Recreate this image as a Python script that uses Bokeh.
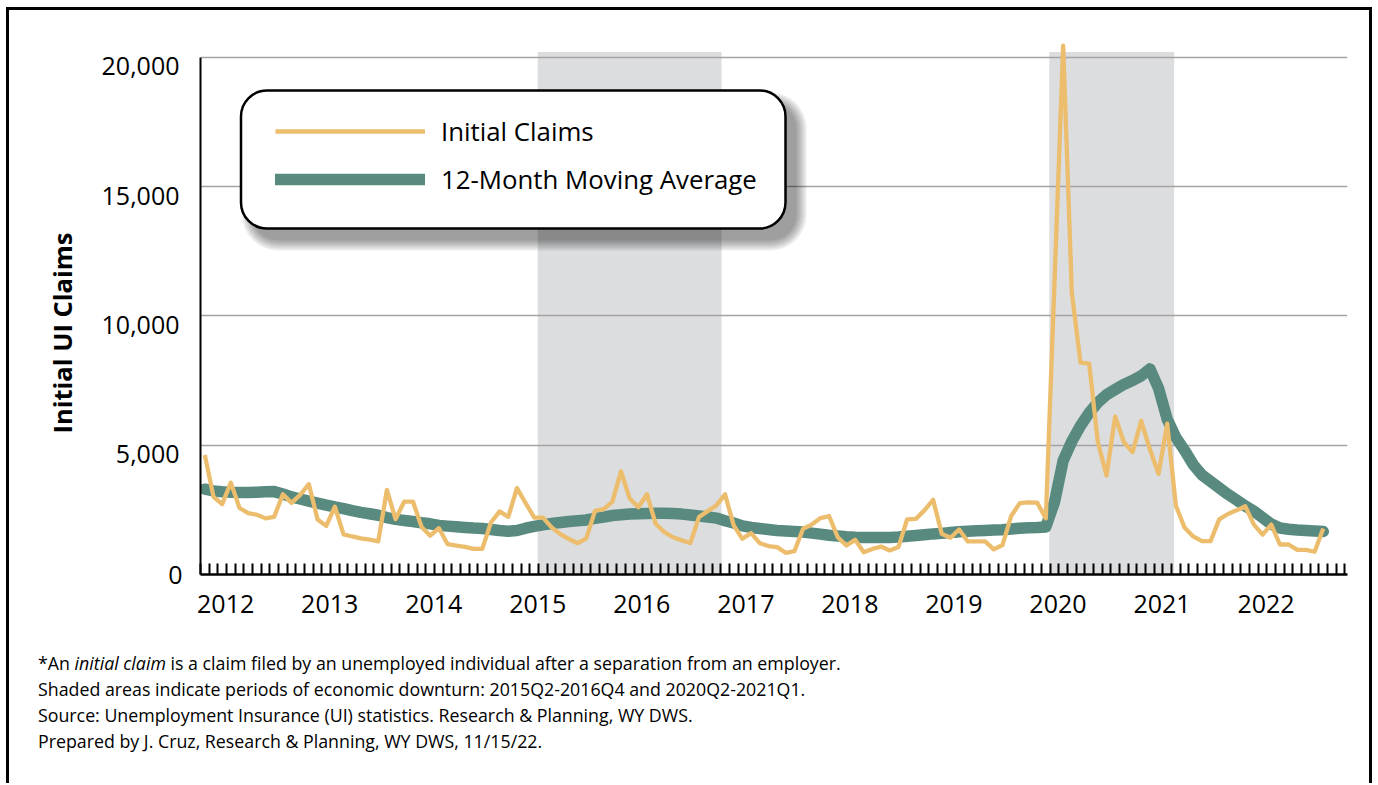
import html
import pandas as pd
from bokeh.plotting import figure
from bokeh.layouts import column
from bokeh.models import (Range1d, FixedTicker, BoxAnnotation, Legend, LegendItem,
                          LinearAxis, NumeralTickFormatter, Title, Div)
from bokeh.embed import file_html
from bokeh.resources import INLINE

# ---------------- data ----------------
start_month = "2012-01"

initial_claims = [
    4620, 3000, 2720, 3550, 2570, 2370, 2310, 2170, 2230, 3100, 2770, 3080,   # 2012
    3490, 2130, 1880, 2620, 1550, 1470, 1400, 1350, 1280, 3270, 2140, 2820,   # 2013
    2820, 1840, 1500, 1790, 1170, 1120, 1070, 990, 990, 2010, 2440, 2230,     # 2014
    3340, 2760, 2200, 2200, 1820, 1560, 1370, 1210, 1400, 2460, 2530, 2810,   # 2015
    3990, 2940, 2600, 3100, 1960, 1640, 1440, 1320, 1220, 2220, 2450, 2670,   # 2016
    3100, 1900, 1380, 1600, 1210, 1100, 1060, 840, 900, 1770, 1930, 2180,    # 2017
    2260, 1440, 1120, 1340, 860, 990, 1080, 930, 1060, 2130, 2150, 2480,     # 2018
    2890, 1570, 1420, 1740, 1280, 1280, 1280, 970, 1140, 2260, 2760, 2790,   # 2019
    2780, 2170, 11300, 20450, 10890, 8190, 8150, 5120, 3830, 6110, 5120, 4730,  # 2020
    5940, 4840, 3890, 5830, 2660, 1820, 1470, 1290, 1290, 2130, 2340, 2480,  # 2021
    2640, 1930, 1540, 1930, 1160, 1160, 950, 950, 880, 1780,                 # 2022
]

moving_average = [
    3300, 3230, 3200, 3180, 3175, 3175, 3180, 3195, 3205, 3110, 3000, 2920,
    2840, 2760, 2680, 2610, 2550, 2470, 2400, 2350, 2290, 2200, 2130, 2090,
    2050, 2000, 1960, 1900, 1870, 1845, 1820, 1795, 1780, 1740, 1700, 1670,
    1700, 1790, 1860, 1920, 1970, 2010, 2050, 2080, 2110, 2170, 2220, 2280,
    2310, 2340, 2350, 2360, 2365, 2365, 2360, 2335, 2300, 2260, 2220, 2180,
    2080, 1990, 1880, 1820, 1780, 1740, 1700, 1680, 1660, 1640, 1600, 1560,
    1520, 1490, 1460, 1440, 1430, 1430, 1430, 1435, 1450, 1480, 1510, 1540,
    1570, 1590, 1620, 1650, 1670, 1690, 1705, 1720, 1730, 1760, 1790, 1810,
    1820, 1840, 2800, 4400, 5150, 5750, 6250, 6650, 6950, 7150, 7350, 7500,
    7680, 7950, 7200, 6000, 5300, 4800, 4250, 3850, 3600, 3350, 3100, 2880,
    2650, 2450, 2200, 1950, 1800, 1750, 1720, 1700, 1680, 1660,
]

year_labels = ["2012", "2013", "2014", "2015", "2016", "2017", "2018",
               "2019", "2020", "2021", "2022"]
y_ticks = [0, 5000, 10000, 15000, 20000]

# shaded downturn periods, in month-index units (Jan 2012 = 0)
downturn_start = [38.4, 97.4]
downturn_end = [59.6, 111.8]

series_names = ["Initial Claims", "12-Month Moving Average"]
y_title = "Initial UI Claims"
footnote_first = ["*An", "initial claim",
                  "is a claim filed by an unemployed individual after a separation from an employer."]
footnote_lines = [
    "Shaded areas indicate periods of economic downturn: 2015Q2-2016Q4 and 2020Q2-2021Q1.",
    "Source: Unemployment Insurance (UI) statistics. Research & Planning, WY DWS.",
    "Prepared by J. Cruz, Research & Planning, WY DWS, 11/15/22.",
]

# ---------------- styling ----------------
ORANGE = "#ECBD6C"
GREEN = "#598A7F"
SHADE = "#DCDDDF"
GRID = "#A3A3A3"
FONT = "Open Sans"

months = pd.period_range(start_month, periods=len(initial_claims), freq="M")
x = list(range(len(months)))

# geometry (page pixels)
W, H_TOTAL, H_MAIN = 1376, 783, 635
FRAME_L, FRAME_T, FRAME_R, FRAME_B = 200, 36, 1347, 574
X0, PX_MONTH, Y_MAX = -0.5, 8.67, 20800
X1 = X0 + (FRAME_R - FRAME_L) / PX_MONTH
PX_UNIT = (FRAME_B - FRAME_T) / Y_MAX
LABEL_DROP = 9 / PX_UNIT          # y tick labels sit just below their gridlines


def dx(X):
    return X0 + (X - FRAME_L) / PX_MONTH


def dy(Y):
    return (FRAME_B - Y) / PX_UNIT


p = figure(width=W, height=H_MAIN, x_range=Range1d(X0, X1), y_range=Range1d(0, Y_MAX),
           output_backend="svg", toolbar_location=None, title=None,
           min_border_left=FRAME_L, min_border_right=W - FRAME_R,
           min_border_top=FRAME_T, min_border_bottom=H_MAIN - FRAME_B)
p.outline_line_color = None
p.background_fill_color = "white"
p.border_fill_alpha = 0
p.extra_y_ranges = {"ylab": Range1d(LABEL_DROP, Y_MAX + LABEL_DROP)}

# shaded periods
p.quad(left=downturn_start, right=downturn_end, bottom=0, top=20200,
       fill_color=SHADE, line_color=None, level="underlay")

r_ma = p.line(x, moving_average, line_color=GREEN, line_width=11.5,
              line_cap="round", line_join="round")
r_ic = p.line(x, initial_claims, line_color=ORANGE, line_width=4.3, line_join="round")

# x axis
year_pos = [round((int(y) - int(start_month[:4])) * 12 + 2.4, 2) for y in year_labels]
xa = p.xaxis[0]
xa.ticker = FixedTicker(ticks=year_pos, minor_ticks=[k - 0.5 for k in range(len(x) + 3)])
xa.major_label_overrides = {pos: lab for pos, lab in zip(year_pos, year_labels)}
xa.major_tick_line_color = None
xa.major_tick_in = 0
xa.major_tick_out = 0
xa.minor_tick_line_color = "black"
xa.minor_tick_line_width = 2
xa.minor_tick_in = 11
xa.minor_tick_out = 0
xa.axis_line_color = "black"
xa.axis_line_width = 2.5
xa.major_label_text_font = FONT
xa.major_label_text_font_size = "25px"
xa.major_label_text_color = "black"
xa.major_label_standoff = 20

# y axis line (0 .. 20,000) with the "0" label
Y_STANDOFF = 18
ZERO_W = 14
ya = p.yaxis[0]
ya.ticker = FixedTicker(ticks=y_ticks[:1])
ya.bounds = (0, 20000)
ya.major_tick_line_color = None
ya.major_tick_in = 0
ya.major_tick_out = 0
ya.minor_tick_line_color = None
ya.major_label_standoff = Y_STANDOFF
ya.major_label_text_font = FONT
ya.major_label_text_font_size = "25px"
ya.major_label_text_color = "black"
ya.axis_line_color = "black"
ya.axis_line_width = 2

# other y tick labels (just below each gridline)
ylab = LinearAxis(y_range_name="ylab", ticker=FixedTicker(ticks=y_ticks[1:]),
                  bounds=(0, 20000), formatter=NumeralTickFormatter(format="0,0"))
ylab.axis_line_color = None
ylab.major_tick_line_color = None
ylab.major_tick_in = 0
ylab.major_tick_out = 0
ylab.minor_tick_line_color = None
ylab.major_label_standoff = -ZERO_W
ylab.major_label_text_font = FONT
ylab.major_label_text_font_size = "25px"
ylab.major_label_text_color = "black"
p.add_layout(ylab, "left")

# y axis title
p.add_layout(Title(text=y_title, align="left", offset=141, standoff=39,
                   text_font=FONT, text_font_size="25.5px", text_font_style="bold",
                   text_color="black"), "left")

p.xgrid.visible = False
p.ygrid.ticker = FixedTicker(ticks=y_ticks[1:])
p.ygrid.grid_line_color = GRID
p.ygrid.grid_line_width = 1.5

# legend box with soft shadow
BL, BR, BT, BB = 240.5, 785, 90, 228
for k in range(6):
    e = 2 * k
    p.add_layout(BoxAnnotation(left=dx(BL + 11 - e), right=dx(BR + 11 + e),
                               top=dy(BT + 12 - e), bottom=dy(BB + 12 + e),
                               fill_color="black", fill_alpha=0.075, line_color=None,
                               border_radius=26 + e))
p.add_layout(BoxAnnotation(left=dx(BL), right=dx(BR), top=dy(BT), bottom=dy(BB),
                           fill_color="white", fill_alpha=1, line_color="black",
                           line_alpha=1, line_width=2.5, border_radius=26))

legend = Legend(items=[LegendItem(label=series_names[0], renderers=[r_ic]),
                       LegendItem(label=series_names[1], renderers=[r_ma])],
                location=(275 - FRAME_L, FRAME_B - 197), orientation="vertical",
                glyph_width=150, glyph_height=36, label_height=36, label_standoff=16,
                spacing=12, padding=0, margin=0, border_line_color=None,
                background_fill_alpha=0, label_text_font=FONT,
                label_text_font_size="25.8px", label_text_color="black")
p.add_layout(legend)

# ---------------- footnotes ----------------
H_NOTES = H_TOTAL - H_MAIN
e = html.escape
note_rows = [f"{e(footnote_first[0])} <i>{e(footnote_first[1])}</i> {e(footnote_first[2])}"]
note_rows += [e(t) for t in footnote_lines]
notes_html = ('<div style="padding:15px 0 0 38px;font-family:\'Open Sans\';font-size:17.8px;'
              'line-height:26px;color:#000;white-space:nowrap">'
              + "".join(f"<div>{r}</div>" for r in note_rows) + "</div>")
notes = Div(text=notes_html, width=W, height=H_NOTES, margin=0)

page = column(p, notes, spacing=0, styles={
    "background-color": "white",
    "box-shadow": ("inset 6px 7px 0 0 #fff, inset -4px 0 0 0 #fff, "
                   "inset 9px 10px 0 0 #000, inset -7px 0 0 0 #000"),
})

open("out.html", "w").write(file_html(page, INLINE))
